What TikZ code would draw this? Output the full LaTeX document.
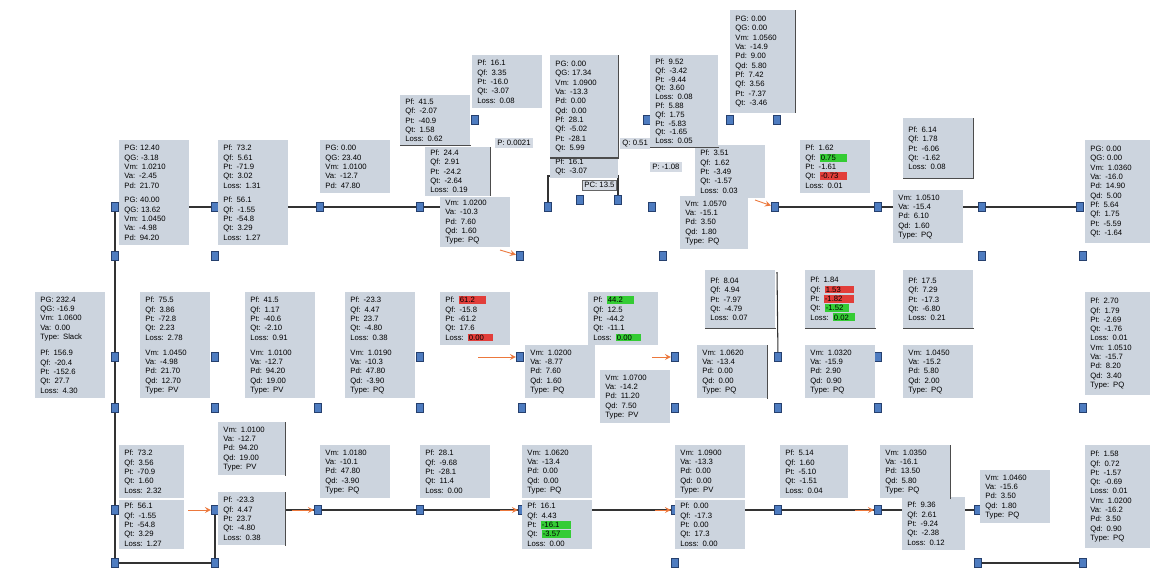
\documentclass[tikz,border=0pt]{standalone}
\usepackage{fontspec}
\setmainfont{Liberation Sans}
\usepackage{xcolor}
\usepackage{tikz}
\usetikzlibrary{arrows, positioning}

\definecolor{boxgray}{RGB}{204,212,222}
\definecolor{busblue}{RGB}{78,124,192}
\definecolor{busedge}{RGB}{38,64,110}
\definecolor{hlred}{RGB}{226,62,58}
\definecolor{hlgreen}{RGB}{52,204,52}
\definecolor{flowor}{RGB}{236,120,60}
\setlength{\fboxsep}{0.7pt}

\begin{document}
\begin{tikzpicture}[x=0.02cm, y=-0.02cm,
    res/.style={rectangle, fill=boxgray, anchor=north west, align=left, text width=1.2cm, inner xsep=0.1cm, inner ysep=1.5pt, minimum height=1.06cm, font=\fontsize{4.4}{5.3}\selectfont},
    tall/.style={res, minimum height=2.05cm},
    bus/.style={rectangle, draw=busedge, fill=busblue, minimum width=0.15cm, minimum height=0.19cm, inner sep=0pt},
    busline/.style={draw=black!80, line width=0.6pt},
    edge/.style={draw=black!70, line width=0.8pt},
    flow/.style={draw=flowor, line width=0.5pt, ->, >=stealth},
    tag/.style={rectangle, fill=boxgray!85, anchor=north west, inner sep=1.2pt, font=\fontsize{4.4}{5.3}\selectfont}
]
\useasboundingbox (0,0) rectangle (1150,579);
\fill[white] (0,0) rectangle (1150,579);

% bus markers
\foreach \x in {115,215,320,420,548,652,775,878,982,1080}
    \node[bus] (a\x) at (\x,207) {};
\foreach \x in {580,618}
    \node[bus] (g\x) at (\x,200) {};
\foreach \x in {475,647,730,777}
    \node[bus] (u\x) at (\x,120) {};
\foreach \x in {115,215,520,663,982,1083}
    \node[bus] (b\x) at (\x,256) {};
\foreach \x in {115,215,420,520,675,778,878}
    \node[bus] (m\x) at (\x,357) {};
\foreach \x in {115,215,318,420,522,675,778,878,1083}
    \node[bus] (n\x) at (\x,408) {};
\foreach \x in {115,215,318,420,522,675,778,878,978}
    \node[bus] (d\x) at (\x,510) {};
\foreach \x in {115,215,675,978,1083}
    \node[bus] (f\x) at (\x,563) {};

\coordinate (k1) at (548,176);
\coordinate (k2) at (618,176);
\coordinate (v9) at (777,272);
\coordinate (w7) at (440,207);

% connections
\draw[busline] (a115) -- (a215) -- (a320) -- (a420) -- (w7);
\draw[busline] (a775) -- (a878) -- (a982) -- (a1080);
\draw[busline] (a115) -- (b115) -- (m115) -- (n115) -- (d115) -- (f115);
\draw[busline] (f115) -- (f215) -- (d215);
\draw[busline] (d215) -- (d318) -- (d420) -- (d522) -- (d675) -- (d778) -- (d878) -- (d978);
\draw[busline] (f978) -- (f1083);
\draw[busline] (a548) -- (k1) -- (k2) -- (g618);
\draw[busline] (v9) -- (m778);
\draw[flow] (188,510) -- (d215);
\draw[flow] (292,510) -- (d318);
\draw[flow] (500,510) -- (d522);
\draw[flow] (655,510) -- (d675);
\draw[flow] (855,510) -- (d878);
\draw[flow] (478,357) -- (m520);
\draw[flow] (652,357) -- (m675);
\draw[flow] (755,200) -- (a775);
\draw[flow] (500,250) -- (b520);

% top row
\node[res] (t1a) at (119,140) {PG: 12.40\\QG: -3.18\\Vm: 1.0210\\Va: -2.45\\Pd: 21.70};
\node[res] (t1b) at (119,192) {PG: 40.00\\QG: 13.62\\Vm: 1.0450\\Va: -4.98\\Pd: 94.20};
\node[res] (t2a) at (218,140) {Pf: 73.2\\Qf: 5.61\\Pt: -71.9\\Qt: 3.02\\Loss: 1.31};
\node[res] (t2b) at (218,192) {Pf: 56.1\\Qf: -1.55\\Pt: -54.8\\Qt: 3.29\\Loss: 1.27};
\node[res] (t3) at (320,140) {PG: 0.00\\QG: 23.40\\Vm: 1.0100\\Va: -12.7\\Pd: 47.80};
\node[res, minimum height=1.0cm] (t4) at (400,95) {Pf: 41.5\\Qf: -2.07\\Pt: -40.9\\Qt: 1.58\\Loss: 0.62};
\node[res] (t5) at (472,55) {Pf: 16.1\\Qf: 3.35\\Pt: -16.0\\Qt: -3.07\\Loss: 0.08};
\node[res, text width=1.1cm, minimum height=0.9cm] (t6) at (425,147) {Pf: 24.4\\Qf: 2.91\\Pt: -24.2\\Qt: -2.64\\Loss: 0.19};
\node[res, minimum height=1.0cm] (t7) at (440,197) {Vm: 1.0200\\Va: -10.3\\Pd: 7.60\\Qd: 1.60\\Type: PQ};
\node[tall, text width=1.16cm] (t8) at (550,55) {PG: 0.00\\QG: 17.34\\Vm: 1.0900\\Va: -13.3\\Pd: 0.00\\Qd: 0.00\\Pf: 28.1\\Qf: -5.02\\Pt: -28.1\\Qt: 5.99};
\node[res, minimum height=0.4cm, text width=1.16cm] (t8b) at (550,156) {Pf: 16.1\\Qt: -3.07};
\node[tall, text width=1.16cm, minimum height=1.84cm, font=\fontsize{4.4}{5.0}\selectfont] (t9) at (650,55) {Pf: 9.52\\Qf: -3.42\\Pt: -9.44\\Qt: 3.60\\Loss: 0.08\\Pf: 5.88\\Qf: 1.75\\Pt: -5.83\\Qt: -1.65\\Loss: 0.05};
\node[tall, text width=1.1cm] (t10) at (730,10) {PG: 0.00\\QG: 0.00\\Vm: 1.0560\\Va: -14.9\\Pd: 9.00\\Qd: 5.80\\Pf: 7.42\\Qf: 3.56\\Pt: -7.37\\Qt: -3.46};
\node[res] (t11) at (695,145) {Pf: 3.51\\Qf: 1.62\\Pt: -3.49\\Qt: -1.57\\Loss: 0.03};
\node[res, text width=1.16cm] (t12) at (680,196) {Vm: 1.0570\\Va: -15.1\\Pd: 3.50\\Qd: 1.80\\Type: PQ};
\node[res] (t13) at (800,140) {Pf: 1.62\\Qf: \colorbox{hlgreen}{\makebox[0.5cm][l]{0.75}}\\Pt: -1.61\\Qt: \colorbox{hlred}{\makebox[0.5cm][l]{-0.73}}\\Loss: 0.01};
\node[res, minimum height=1.2cm] (t14) at (903,118) {Pf: 6.14\\Qf: 1.78\\Pt: -6.06\\Qt: -1.62\\Loss: 0.08};
\node[res] (t15) at (893,190) {Vm: 1.0510\\Va: -15.4\\Pd: 6.10\\Qd: 1.60\\Type: PQ};
\node[tall, text width=1.1cm] (t16) at (1085,140) {PG: 0.00\\QG: 0.00\\Vm: 1.0360\\Va: -16.0\\Pd: 14.90\\Qd: 5.00\\Pf: 5.64\\Qf: 1.75\\Pt: -5.59\\Qt: -1.64};
\node[tag] (l1) at (495,138) {P: 0.0021};
\node[tag, draw=black!60] (l2) at (582,180) {PC: 13.5};
\node[tag] (l3) at (620,138) {Q: 0.51};
\node[tag] (l4) at (650,162) {P: -1.08};

% middle row
\node[res] (m1a) at (35,292) {PG: 232.4\\QG: -16.9\\Vm: 1.0600\\Va: 0.00\\Type: Slack};
\node[res] (m1b) at (35,345) {Pf: 156.9\\Qf: -20.4\\Pt: -152.6\\Qt: 27.7\\Loss: 4.30};
\node[res] (m2a) at (140,292) {Pf: 75.5\\Qf: 3.86\\Pt: -72.8\\Qt: 2.23\\Loss: 2.78};
\node[res] (m2b) at (140,345) {Vm: 1.0450\\Va: -4.98\\Pd: 21.70\\Qd: 12.70\\Type: PV};
\node[res] (m3a) at (245,292) {Pf: 41.5\\Qf: 1.17\\Pt: -40.6\\Qt: -2.10\\Loss: 0.91};
\node[res] (m3b) at (245,345) {Vm: 1.0100\\Va: -12.7\\Pd: 94.20\\Qd: 19.00\\Type: PV};
\node[res] (m4a) at (345,292) {Pf: -23.3\\Qf: 4.47\\Pt: 23.7\\Qt: -4.80\\Loss: 0.38};
\node[res] (m4b) at (345,345) {Vm: 1.0190\\Va: -10.3\\Pd: 47.80\\Qd: -3.90\\Type: PQ};
\node[res] (m5) at (440,292) {Pf: \colorbox{hlred}{\makebox[0.5cm][l]{61.2}}\\Qf: -15.8\\Pt: -61.2\\Qt: 17.6\\Loss: \colorbox{hlred}{\makebox[0.45cm][l]{0.00}}};
\node[res] (m6) at (525,345) {Vm: 1.0200\\Va: -8.77\\Pd: 7.60\\Qd: 1.60\\Type: PQ};
\node[res] (m7) at (588,292) {Pf: \colorbox{hlgreen}{\makebox[0.5cm][l]{44.2}}\\Qf: 12.5\\Pt: -44.2\\Qt: -11.1\\Loss: \colorbox{hlgreen}{\makebox[0.45cm][l]{0.00}}};
\node[res] (m8) at (600,370) {Vm: 1.0700\\Va: -14.2\\Pd: 11.20\\Qd: 7.50\\Type: PV};
\node[res, minimum height=1.16cm] (m9) at (705,270) {Pf: 8.04\\Qf: 4.94\\Pt: -7.97\\Qt: -4.79\\Loss: 0.07};
\node[res] (m10) at (697,345) {Vm: 1.0620\\Va: -13.4\\Pd: 0.00\\Qd: 0.00\\Type: PQ};
\node[res, minimum height=1.16cm] (m11) at (805,270) {Pf: 1.84\\Qf: \colorbox{hlred}{\makebox[0.55cm][l]{1.53}}\\Pt: \colorbox{hlred}{\makebox[0.55cm][l]{-1.82}}\\Qt: \colorbox{hlgreen}{\makebox[0.45cm][l]{-1.52}}\\Loss: \colorbox{hlgreen}{\makebox[0.4cm][l]{0.02}}};
\node[res] (m12) at (805,345) {Vm: 1.0320\\Va: -15.9\\Pd: 2.90\\Qd: 0.90\\Type: PQ};
\node[res, minimum height=1.16cm] (m13) at (903,270) {Pf: 17.5\\Qf: 7.29\\Pt: -17.3\\Qt: -6.80\\Loss: 0.21};
\node[res] (m14) at (903,345) {Vm: 1.0450\\Va: -15.2\\Pd: 5.80\\Qd: 2.00\\Type: PQ};
\node[tall, text width=1.1cm] (m15) at (1085,292) {Pf: 2.70\\Qf: 1.79\\Pt: -2.69\\Qt: -1.76\\Loss: 0.01\\Vm: 1.0510\\Va: -15.7\\Pd: 8.20\\Qd: 3.40\\Type: PQ};

% bottom row
\node[res, text width=1.1cm] (b1a) at (119,445) {Pf: 73.2\\Qf: 3.56\\Pt: -70.9\\Qt: 1.60\\Loss: 2.32};
\node[res, text width=1.1cm, minimum height=0.98cm] (b1b) at (119,500) {Pf: 56.1\\Qf: -1.55\\Pt: -54.8\\Qt: 3.29\\Loss: 1.27};
\node[res, text width=1.14cm] (b2) at (218,422) {Vm: 1.0100\\Va: -12.7\\Pd: 94.20\\Qd: 19.00\\Type: PV};
\node[res, text width=1.14cm] (b3) at (218,492) {Pf: -23.3\\Qf: 4.47\\Pt: 23.7\\Qt: -4.80\\Loss: 0.38};
\node[res] (b4) at (320,445) {Vm: 1.0180\\Va: -10.1\\Pd: 47.80\\Qd: -3.90\\Type: PQ};
\node[res] (b5) at (420,445) {Pf: 28.1\\Qf: -9.68\\Pt: -28.1\\Qt: 11.4\\Loss: 0.00};
\node[res] (b6a) at (522,445) {Vm: 1.0620\\Va: -13.4\\Pd: 0.00\\Qd: 0.00\\Type: PQ};
\node[res, minimum height=0.98cm] (b6b) at (522,500) {Pf: 16.1\\Qf: 4.43\\Pt: \colorbox{hlgreen}{\makebox[0.55cm][l]{-16.1}}\\Qt: \colorbox{hlgreen}{\makebox[0.55cm][l]{-3.57}}\\Loss: 0.00};
\node[res] (b7a) at (675,445) {Vm: 1.0900\\Va: -13.3\\Pd: 0.00\\Qd: 0.00\\Type: PV};
\node[res, minimum height=0.98cm] (b7b) at (675,500) {Pf: 0.00\\Qf: -17.3\\Pt: 0.00\\Qt: 17.3\\Loss: 0.00};
\node[res, text width=1.16cm] (b8) at (780,445) {Pf: 5.14\\Qf: 1.60\\Pt: -5.10\\Qt: -1.51\\Loss: 0.04};
\node[res] (b9) at (880,445) {Vm: 1.0350\\Va: -16.1\\Pd: 13.50\\Qd: 5.80\\Type: PQ};
\node[res, text width=1.06cm] (b10) at (902,497) {Pf: 9.36\\Qf: 2.61\\Pt: -9.24\\Qt: -2.38\\Loss: 0.12};
\node[res] (b11) at (980,470) {Vm: 1.0460\\Va: -15.6\\Pd: 3.50\\Qd: 1.80\\Type: PQ};
\node[tall, text width=1.1cm] (b12) at (1085,445) {Pf: 1.58\\Qf: 0.72\\Pt: -1.57\\Qt: -0.69\\Loss: 0.01\\Vm: 1.0200\\Va: -16.2\\Pd: 3.50\\Qd: 0.90\\Type: PQ};

% darker box edges
\draw[edge] (t4.south west) -- (t4.south east);
\draw[edge] (t6.north east) -- (t6.south east);
\draw[edge] (t8.north east) -- (t8.south east);
\draw[edge] (t8.south west) -- (t8.south east);
\draw[edge] (t9.south west) -- (t9.south east);
\draw[edge] (t10.north east) -- (t10.south east);
\draw[edge] (t14.north east) -- (t14.south east);
\draw[edge] (t14.south west) -- (t14.south east);
\draw[edge] (m9.south west) -- (m9.south east);
\draw[edge] (m11.south west) -- (m11.south east);
\draw[edge] (m13.south west) -- (m13.south east);
\draw[edge] (m10.north east) -- (m10.south east);
\draw[edge] (b2.north east) -- (b2.south east);
\draw[edge] (b3.north east) -- (b3.south east);
\draw[edge] (b9.north east) -- (b9.south east);
\end{tikzpicture}
\end{document}
